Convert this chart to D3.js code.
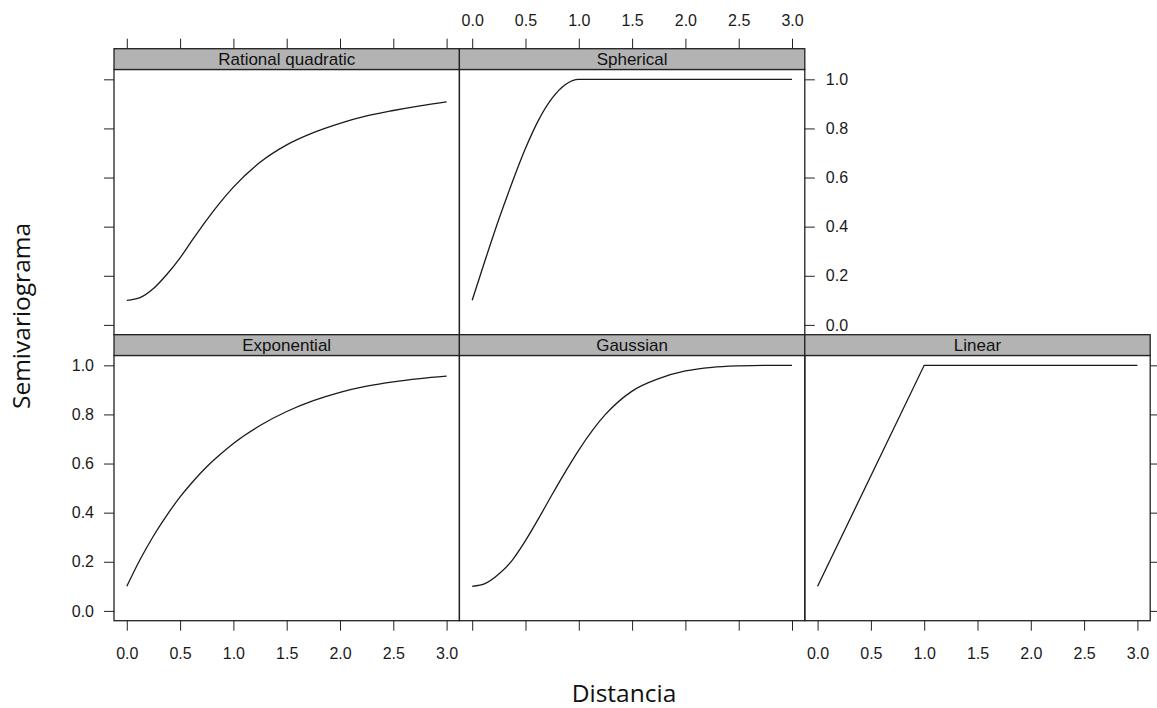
<html>
    <head>
        <title>Semivariogram models</title>
        <style type="text/css">
            body{
                padding: 0px;
                margin: 0px;
                background: #fff;
            }
            .tick text{
                font-family: "Liberation Sans", Arial, sans-serif;
                font-size: 16px;
                fill: #1a1a1a;
            }
            .tick line{
                stroke: #222;
            }
            .strip text{
                font-family: "Liberation Sans", Arial, sans-serif;
                font-size: 17px;
                fill: #111;
            }
            .title{
                font-family: "Open Sans", sans-serif;
                font-size: 24.5px;
                fill: #111;
            }
        </style>
        <script src="https://cdn.jsdelivr.net/npm/d3@7"></script>
        <script type="text/javascript">
            // distances used for the fitted curves
            const dist = [0, 0.125, 0.25, 0.375, 0.5, 0.625, 0.75, 0.875, 1, 1.25, 1.5, 1.75, 2, 2.25, 2.5, 2.75, 3];
            const ratQuad = [0.100, 0.111, 0.148, 0.205, 0.273, 0.352, 0.428, 0.498, 0.561, 0.662, 0.733, 0.783, 0.821, 0.851, 0.873, 0.892, 0.908];
            const spherical = [0.100, 0.268, 0.430, 0.580, 0.719, 0.836, 0.923, 0.979, 1.0, 1.0, 1.0, 1.0, 1.0, 1.0, 1.0, 1.0, 1.0];
            const exponential = [0.100, 0.209, 0.305, 0.389, 0.464, 0.529, 0.587, 0.637, 0.682, 0.755, 0.812, 0.856, 0.890, 0.915, 0.933, 0.946, 0.956];
            const gaussian = [0.100, 0.112, 0.150, 0.206, 0.286, 0.378, 0.474, 0.567, 0.655, 0.800, 0.895, 0.946, 0.977, 0.992, 0.998, 1.0, 1.0];
            const linDist = [0, 1, 3];
            const linear = [0.1, 1.0, 1.0];

            const models = ["Rational quadratic", "Spherical", "Exponential", "Gaussian", "Linear"];
            const xTicks = [0, 0.5, 1, 1.5, 2, 2.5, 3];
            const yTicks = [0, 0.2, 0.4, 0.6, 0.8, 1.0];

            window.onload = function(){
                const W = 1157, H = 708;
                const left = 114, colW = 345.4;
                const rowTop = [48.7, 334.7];
                const stripH = 20.8, panelH = 265.2;

                svg = d3.select("body").append("svg").attr("width", W).attr("height", H);

                const x = d3.scaleLinear().domain([-0.12, 3.12]).range([0, colW]);
                const y = d3.scaleLinear().domain([-0.04, 1.04]).range([panelH, 0]);
                const fmt = d3.format(".1f");
                const blank = () => "";

                const panels = [
                    {name: models[0], row: 0, col: 0, xs: dist, ys: ratQuad, smooth: true},
                    {name: models[1], row: 0, col: 1, xs: dist, ys: spherical, smooth: true},
                    {name: models[2], row: 1, col: 0, xs: dist, ys: exponential, smooth: true},
                    {name: models[3], row: 1, col: 1, xs: dist, ys: gaussian, smooth: true},
                    {name: models[4], row: 1, col: 2, xs: linDist, ys: linear, smooth: false}
                ];

                panels.forEach(function(p){
                    const px = left + p.col * colW;
                    const py = rowTop[p.row];

                    // panel body
                    const g = svg.append("g").attr("transform", "translate(" + px + "," + (py + stripH) + ")");
                    const pts = p.xs.map((d, i) => [d, p.ys[i]]);
                    const line = d3.line()
                        .x(d => x(d[0]))
                        .y(d => y(d[1]))
                        .curve(p.smooth ? d3.curveMonotoneX : d3.curveLinear);
                    g.append("path").datum(pts)
                        .attr("d", line)
                        .attr("fill", "none")
                        .attr("stroke", "#1a1a1a")
                        .attr("stroke-width", 1.3);
                    g.append("rect")
                        .attr("width", colW).attr("height", panelH)
                        .attr("fill", "none").attr("stroke", "#222").attr("stroke-width", 1.3);

                    // strip
                    const s = svg.append("g").attr("class", "strip").attr("transform", "translate(" + px + "," + py + ")");
                    s.append("rect")
                        .attr("width", colW).attr("height", stripH)
                        .attr("fill", "#b3b3b3").attr("stroke", "#222").attr("stroke-width", 1.3);
                    s.append("text")
                        .attr("x", colW / 2).attr("y", stripH / 2).attr("dy", "0.36em")
                        .attr("text-anchor", "middle")
                        .text(p.name);
                });

                function noDomain(g){ g.select(".domain").remove(); }

                // top axes (row 0): col 0 ticks only, col 1 labelled
                [0, 1].forEach(function(c){
                    svg.append("g")
                        .attr("transform", "translate(" + (left + c * colW) + "," + rowTop[0] + ")")
                        .call(d3.axisTop(x).tickValues(xTicks).tickSize(10).tickPadding(13)
                            .tickFormat(c == 1 ? fmt : blank))
                        .call(noDomain);
                });

                // bottom axes (row 1): col 0 and 2 labelled, col 1 ticks only
                const bottomY = rowTop[1] + stripH + panelH;
                [0, 1, 2].forEach(function(c){
                    svg.append("g")
                        .attr("transform", "translate(" + (left + c * colW) + "," + bottomY + ")")
                        .call(d3.axisBottom(x).tickValues(xTicks).tickSize(10).tickPadding(17)
                            .tickFormat(c == 1 ? blank : fmt))
                        .call(noDomain);
                });

                // left axes
                [0, 1].forEach(function(r){
                    svg.append("g")
                        .attr("transform", "translate(" + left + "," + (rowTop[r] + stripH) + ")")
                        .call(d3.axisLeft(y).tickValues(yTicks).tickSize(10).tickPadding(10)
                            .tickFormat(r == 1 ? fmt : blank))
                        .call(noDomain);
                });

                // right axes: row 0 sits at the right of Spherical, row 1 at the right of Linear
                svg.append("g")
                    .attr("transform", "translate(" + (left + 2 * colW) + "," + (rowTop[0] + stripH) + ")")
                    .call(d3.axisRight(y).tickValues(yTicks).tickSize(10).tickPadding(11).tickFormat(fmt))
                    .call(noDomain);
                svg.append("g")
                    .attr("transform", "translate(" + (left + 3 * colW) + "," + (rowTop[1] + stripH) + ")")
                    .call(d3.axisRight(y).tickValues(yTicks).tickSize(10).tickFormat(blank))
                    .call(noDomain);

                // axis titles
                svg.append("text").attr("class", "title")
                    .attr("x", 624).attr("y", 702)
                    .attr("text-anchor", "middle")
                    .text("Distancia");
                svg.append("text").attr("class", "title")
                    .attr("transform", "translate(30,316) rotate(-90)")
                    .attr("text-anchor", "middle")
                    .text("Semivariograma");
            }
        </script>
    </head>
    <body>
    </body>
</html>
